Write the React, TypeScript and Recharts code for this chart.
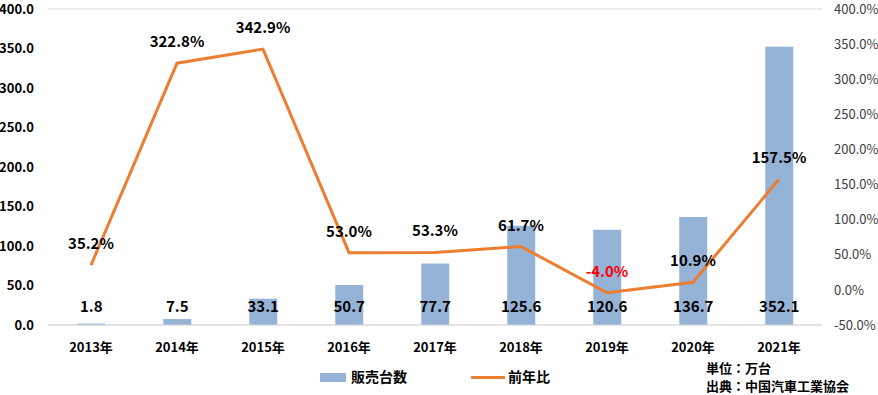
import { ComposedChart, Bar, Line, XAxis, YAxis, CartesianGrid, LabelList, Legend } from 'recharts'

const years = ['2013年', '2014年', '2015年', '2016年', '2017年', '2018年', '2019年', '2020年', '2021年']
const sales = [1.8, 7.5, 33.1, 50.7, 77.7, 125.6, 120.6, 136.7, 352.1]
const yoy = [35.2, 322.8, 342.9, 53.0, 53.3, 61.7, -4.0, 10.9, 157.5]
const leftTicks = [0, 50, 100, 150, 200, 250, 300, 350, 400]
const rightTicks = [-50, 0, 50, 100, 150, 200, 250, 300, 350, 400]

const data = years.map((year, i) => ({ year, sales: sales[i], yoy: yoy[i] }))

const FONT = '"Noto Sans CJK JP", "Noto Sans", sans-serif'
const BAR = '#95b3d7'
const LINE = '#ed7d31'

// bar values sit just above the baseline, not on top of the bar
const BarValue = (props: any) => {
  const { x, y, width, height, value } = props
  return (
    <text x={x + width / 2} y={y + height - 13} textAnchor="middle" fontFamily={FONT} fontWeight="bold" fontSize={15} fill="#000">
      {Number(value).toFixed(1)}
    </text>
  )
}

const LineValue = (props: any) => {
  const { x, y, value } = props
  return (
    <text x={x} y={y - 16} textAnchor="middle" fontFamily={FONT} fontWeight="bold" fontSize={15} fill={value < 0 ? '#ff0000' : '#000'}>
      {Number(value).toFixed(1)}%
    </text>
  )
}

const LegendBox = () => (
  <div style={{ position: 'relative', width: 878, height: 40, fontFamily: FONT }}>
    <div style={{ position: 'absolute', left: 320, top: 18, width: 26, height: 9, background: BAR }} />
    <div style={{ position: 'absolute', left: 351, top: 11, fontSize: 14, lineHeight: '20px', fontWeight: 'bold', color: '#000' }}>販売台数</div>
    <div style={{ position: 'absolute', left: 471, top: 21, width: 34, height: 3, background: LINE }} />
    <div style={{ position: 'absolute', left: 508, top: 11, fontSize: 14, lineHeight: '20px', fontWeight: 'bold', color: '#000' }}>前年比</div>
    <div style={{ position: 'absolute', left: 706, top: 4, fontSize: 13, fontWeight: 'bold', color: '#000', lineHeight: '18px' }}>
      単位：万台<br />出典：中国汽車工業協会
    </div>
  </div>
)

export default function App() {
  return (
    <div style={{ position: 'absolute', left: 0, top: 0, width: 878, height: 395, background: '#fff' }}>
      <ComposedChart width={878} height={395} data={data} margin={{ top: 9, right: 0, bottom: 0, left: 0 }} barCategoryGap="34%">
        <CartesianGrid vertical={false} stroke="#d9d9d9" />
        <XAxis
          dataKey="year"
          height={30}
          axisLine={{ stroke: '#d9d9d9' }}
          tickLine={false}
          tick={{ fontFamily: FONT, fontWeight: 'bold', fontSize: 13, fill: '#000' }}
          tickMargin={12}
        />
        <YAxis
          yAxisId="left"
          width={48}
          domain={[0, 400]}
          ticks={leftTicks}
          axisLine={false}
          tickLine={false}
          tickFormatter={(v: number) => v.toFixed(1)}
          tick={{ fontFamily: FONT, fontWeight: 'bold', fontSize: 13, fill: '#000' }}
          tickMargin={8}
        />
        <YAxis
          yAxisId="right"
          orientation="right"
          width={56}
          domain={[-50, 400]}
          ticks={rightTicks}
          axisLine={false}
          tickLine={false}
          tickFormatter={(v: number) => v.toFixed(1) + '%'}
          tick={{ fontFamily: FONT, fontSize: 13, fill: '#404040', textAnchor: 'start' }}
          tickMargin={6}
        />
        <Legend verticalAlign="bottom" content={<LegendBox />} wrapperStyle={{ left: 0, bottom: 0, width: 878, height: 40 }} />
        <Bar yAxisId="left" dataKey="sales" fill={BAR} isAnimationActive={false}>
          <LabelList dataKey="sales" content={<BarValue />} />
        </Bar>
        <Line yAxisId="right" dataKey="yoy" stroke={LINE} strokeWidth={3} dot={false} isAnimationActive={false}>
          <LabelList dataKey="yoy" content={<LineValue />} />
        </Line>
      </ComposedChart>
    </div>
  )
}
